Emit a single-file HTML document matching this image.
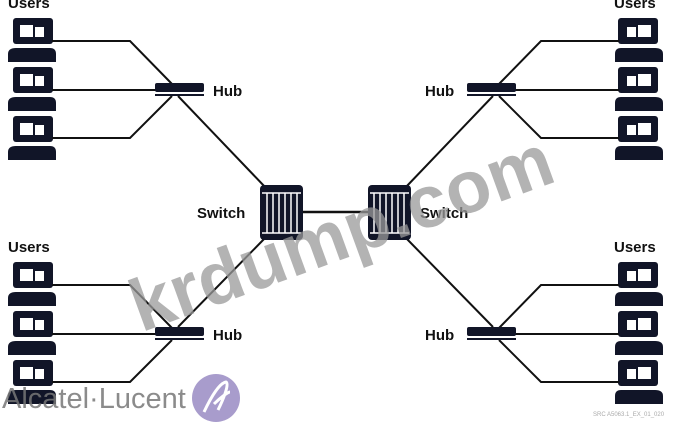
<!DOCTYPE html>
<html><head><meta charset="utf-8"><style>
html,body{margin:0;padding:0;background:#fff;}
svg{display:block;}
text{font-family:"Liberation Sans",sans-serif;}
</style></head><body>
<svg width="686" height="422" viewBox="0 0 686 422" xmlns="http://www.w3.org/2000/svg">
<defs>
<g id="pc">
  <rect x="13" y="0" width="40" height="26" rx="3" fill="#111528"/>
  <rect x="20" y="7" width="13" height="12" fill="#fff"/>
  <rect x="35" y="9" width="9" height="10" fill="#fff"/>
  <path d="M8,44 L8,36 Q8,30 16,30 L50,30 Q56,30 56,36 L56,44 Z" fill="#111528"/>
</g>
<g id="grp">
  <use href="#pc" y="18"/>
  <use href="#pc" y="67"/>
  <use href="#pc" y="116"/>
  <g stroke="#111" stroke-width="2" fill="none">
    <polyline points="52,41 130,41 172,84"/>
    <line x1="52" y1="90" x2="158" y2="90"/>
    <polyline points="52,138 130,138 172,96"/>
  </g>
  <rect x="155" y="83" width="49" height="9" rx="2" fill="#111528"/>
  <line x1="155" y1="95" x2="204" y2="95" stroke="#111528" stroke-width="2"/>
</g>
<g id="sw">
  <rect x="260" y="185" width="43" height="55" rx="4" fill="#111528"/>
  <g stroke="#fff" stroke-width="1.5">
    <line x1="262" y1="193" x2="301" y2="193"/>
    <line x1="262" y1="233" x2="301" y2="233"/>
    <line x1="267" y1="193" x2="267" y2="233"/>
    <line x1="273" y1="193" x2="273" y2="233"/>
    <line x1="279" y1="193" x2="279" y2="233"/>
    <line x1="285" y1="193" x2="285" y2="233"/>
    <line x1="291" y1="193" x2="291" y2="233"/>
    <line x1="297" y1="193" x2="297" y2="233"/>
  </g>
</g>
<g id="half">
  <use href="#grp"/>
  <use href="#grp" y="244"/>
  <line x1="178" y1="96" x2="266" y2="188" stroke="#111" stroke-width="2"/>
  <line x1="178" y1="327" x2="266" y2="237" stroke="#111" stroke-width="2"/>
  <use href="#sw"/>
</g>
</defs>
<line x1="300" y1="212" x2="370" y2="212" stroke="#111" stroke-width="2.5"/>
<use href="#half"/>
<use href="#half" transform="translate(671,0) scale(-1,1)"/>
<g font-weight="bold" font-size="15" fill="#111">
  <text x="8" y="8">Users</text>
  <text x="8" y="252">Users</text>
  <text x="614" y="8">Users</text>
  <text x="614" y="252">Users</text>
  <text x="213" y="96">Hub</text>
  <text x="425" y="96">Hub</text>
  <text x="213" y="340">Hub</text>
  <text x="425" y="340">Hub</text>
  <text x="197" y="218">Switch</text>
  <text x="420" y="218">Switch</text>
</g>
<text x="342" y="258" font-size="74" font-weight="bold" fill="#999" fill-opacity="0.75" text-anchor="middle" transform="rotate(-20 342 235)">krdump.com</text>
<text x="2" y="408" font-size="29" fill="#777" fill-opacity="0.85">Alcatel·Lucent</text>
<circle cx="216" cy="398" r="24" fill="#a89ccc"/>
<path d="M204,412 C212,395 220,383 226,382 C230,384 222,402 218,410 M214,404 C220,398 228,392 230,392" stroke="#fff" stroke-width="3" fill="none"/>
<text x="593" y="416" font-size="6" fill="#aaa">SRC A5063.1_EX_01_020</text>
</svg>
</body></html>
